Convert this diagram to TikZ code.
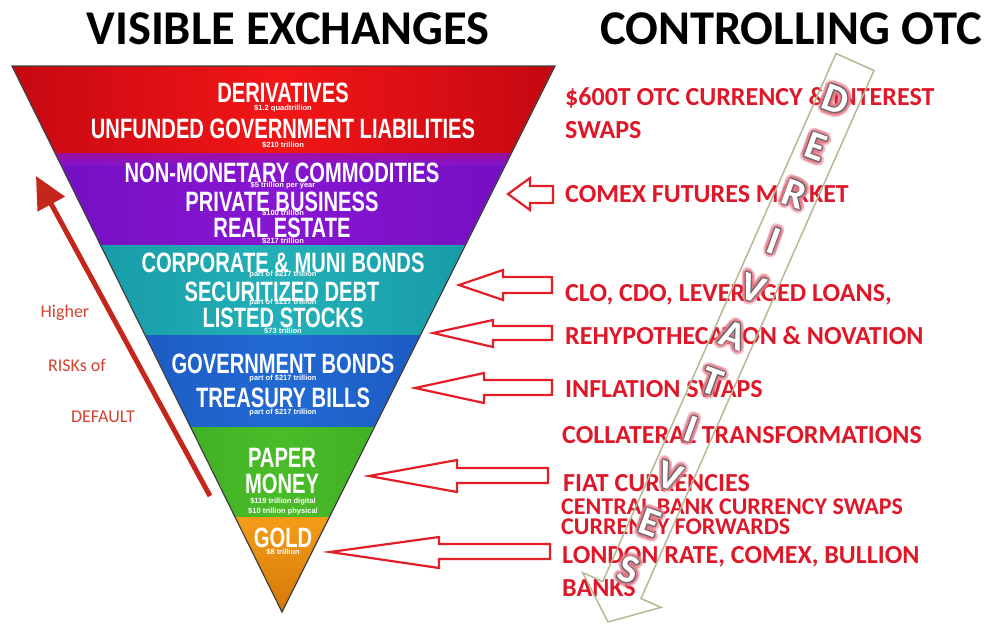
\documentclass[tikz,border=0pt]{standalone}
\usepackage{fontspec}
\setmainfont{Liberation Sans}
\newfontfamily\bandfont[FakeStretch=0.72]{Liberation Sans}
\newfontfamily\calib{Carlito}
\usetikzlibrary{arrows.meta}
\definecolor{txtred}{RGB}{222,24,40}
\definecolor{arrred}{RGB}{228,30,38}
\definecolor{riskred}{RGB}{196,38,28}
\definecolor{handred}{RGB}{214,66,48}
\definecolor{olivegray}{RGB}{184,184,150}
\definecolor{haloPink}{RGB}{228,120,135}
\definecolor{redA}{RGB}{196,8,18}\definecolor{redB}{RGB}{242,22,22}
\definecolor{purA}{RGB}{112,14,190}\definecolor{purB}{RGB}{136,22,210}
\definecolor{teaA}{RGB}{16,146,158}\definecolor{teaB}{RGB}{36,176,184}
\definecolor{bluA}{RGB}{22,78,182}\definecolor{bluB}{RGB}{34,106,210}
\definecolor{greA}{RGB}{46,156,30}\definecolor{greB}{RGB}{74,188,40}
\definecolor{oraA}{RGB}{244,156,24}\definecolor{oraB}{RGB}{214,120,8}
\tikzset{
  band/.style={font=\bandfont\bfseries\fontsize{28}{28}\selectfont, text=white, inner sep=0pt, text height=20pt, text depth=0pt},
  small/.style={font=\bfseries\fontsize{7.5}{7.5}\selectfont, text=white, inner sep=0pt},
  heading/.style={font=\calib\bfseries\fontsize{48.5}{48.5}\selectfont, text=black, inner sep=0pt, text height=31pt, text depth=0pt},
  otc/.style={font=\calib\bfseries\fontsize{26}{26}\selectfont, text=txtred, inner sep=0pt, anchor=west, text height=16.7pt, text depth=0pt},
  otcs/.style={font=\calib\bfseries\fontsize{24}{24}\selectfont, text=txtred, inner sep=0pt, anchor=west, text height=15.4pt, text depth=0pt},
  hand/.style={font=\calib\fontsize{18}{18}\selectfont, text=handred, inner sep=0pt},
  hollow/.style={draw=arrred, line width=2.2pt, fill=white, line join=miter},
  dl/.style={font=\calib\bfseries\fontsize{40}{40}\selectfont, inner sep=0pt, rotate=-20},
}
\newcommand\dlet[4]{%
  \foreach \a in {0,30,...,330}{\node[dl, text=haloPink, text opacity=0.35, xshift={4.5*cos(\a)}, yshift={4.5*sin(\a)}] at (#1,#2) {#3};}
  \foreach \a in {0,45,...,315}{\node[dl, text=haloPink, text opacity=0.6, xshift={2.6*cos(\a)}, yshift={2.6*sin(\a)}] at (#1,#2) {#3};}
  \foreach \a in {0,45,...,315}{\node[dl, text=black!60, xshift={1.0*cos(\a)}, yshift={1.0*sin(\a)}] at (#1,#2) {#3};}
  \node[dl, text=white] (#4) at (#1,#2) {#3};
}
\begin{document}
\begin{tikzpicture}[x=1pt,y=-1pt]
\useasboundingbox (0,0) rectangle (985,625);
\fill[white] (0,0) rectangle (985,625);

% headings
\node[heading] (h1) at (288,29) {VISIBLE EXCHANGES};
\node[heading] (h2) at (791,29) {CONTROLLING OTC};

% pyramid bands
\begin{scope}
\clip (12,66) -- (555,66) -- (282,612) -- cycle;
\shade[left color=redA, right color=redA, middle color=redB] (0,66) rectangle (560,153);
\shade[left color=purA, right color=purA, middle color=purB] (0,153) rectangle (560,245);
\shade[top color=purB!60!red, bottom color=purB, opacity=0.6] (0,153) rectangle (560,165);
\shade[left color=teaA, right color=teaA, middle color=teaB] (0,245) rectangle (560,335);
\shade[left color=bluA, right color=bluA, middle color=bluB] (0,335) rectangle (560,427);
\shade[left color=greA, right color=greA, middle color=greB] (0,427) rectangle (560,517);
\shade[top color=oraA, bottom color=oraB] (0,517) rectangle (560,612);
\end{scope}
\draw[black!75, line width=1.2pt, line join=miter] (12,66) -- (555,66) -- (282,612) -- cycle;

% band texts
\node[band] (t1) at (283,92) {DERIVATIVES};
\node[small] (s1) at (283,108) {\$1.2 quadtrillion};
\node[band] (t2) at (283,128) {UNFUNDED GOVERNMENT LIABILITIES};
\node[small] (s2) at (283,145) {\$210 trillion};
\node[band] (t3) at (282,172) {NON-MONETARY COMMODITIES};
\node[small] (s3) at (283,185) {\$5 trillion per year};
\node[band] (t4) at (282,201) {PRIVATE BUSINESS};
\node[small] (s4) at (283,213) {\$100 trillion};
\node[band] (t5) at (282,227) {REAL ESTATE};
\node[small] (s5) at (283,241) {\$217 trillion};
\node[band] (t6) at (283,262) {CORPORATE \& MUNI BONDS};
\node[small] (s6) at (283,274) {part of \$217 trillion};
\node[band] (t7) at (282,291) {SECURITIZED DEBT};
\node[small] (s7) at (283,302) {part of \$217 trillion};
\node[band] (t8) at (283,317) {LISTED STOCKS};
\node[small] (s8) at (283,331) {\$73 trillion};
\node[band] (t9) at (283,363) {GOVERNMENT BONDS};
\node[small] (s9) at (283,378) {part of \$217 trillion};
\node[band] (t10) at (283,397) {TREASURY BILLS};
\node[small] (s10) at (283,412) {part of \$217 trillion};
\node[band] (t11) at (282,457) {PAPER};
\node[band] (t12) at (282,483) {MONEY};
\node[small] (s11) at (283,501) {\$119 trillion digital};
\node[small] (s12) at (283,511) {\$10 trillion physical};
\node[band] (t13) at (283,537) {GOLD};
\node[small] (s13) at (283,552) {\$8 trillion};

% risk arrow
\coordinate (rlo) at (210,496);
\coordinate (rhi) at (36,176);
\draw[riskred, line width=5pt, -{Triangle[length=32pt,width=30pt]}] (rlo) -- (rhi);
\node[hand] (k1) at (65,313) {Higher};
\node[hand] (k2) at (77,365) {RISKs of};
\node[hand] (k3) at (103,417) {DEFAULT};

% right texts
\node[otc] (r1) at (565,97) {\$600T OTC CURRENCY \& INTEREST};
\node[otc] (r2) at (565,130) {SWAPS};
\node[otc] (r3) at (565,194) {COMEX FUTURES MARKET};
\node[otc] (r4) at (565,293) {CLO, CDO, LEVERAGED LOANS,};
\node[otc] (r5) at (565,336) {REHYPOTHECATION \& NOVATION};
\node[otc] (r6) at (565,389) {INFLATION SWAPS};
\node[otc] (r7) at (562,435) {COLLATERAL TRANSFORMATIONS};
\node[otc] (r8) at (563,483) {FIAT CURRENCIES};
\node[otcs] (r9) at (561,507) {CENTRAL BANK CURRENCY SWAPS};
\node[otcs] (r10) at (561,527) {CURRENCY FORWARDS};
\node[otc] (r11) at (562,555) {LONDON RATE, COMEX, BULLION};
\node[otc] (r12) at (562,588) {BANKS};

% hollow arrows
\draw[hollow] (508,194) -- (530,178) -- (530,186) -- (553,186) -- (553,203) -- (530,203) -- (530,210) -- cycle;
\draw[hollow] (459,285) -- (503,270) -- (503,277) -- (552,277) -- (552,293) -- (503,293) -- (503,300) -- cycle;
\draw[hollow] (433,333) -- (493,320) -- (493,326) -- (552,326) -- (552,340) -- (493,340) -- (493,347) -- cycle;
\draw[hollow] (415,388) -- (484,373) -- (484,380) -- (552,380) -- (552,395) -- (484,395) -- (484,403) -- cycle;
\draw[hollow] (369,476) -- (457,460) -- (457,468) -- (548,468) -- (548,483) -- (457,483) -- (457,492) -- cycle;
\draw[hollow] (330,552) -- (439,537) -- (439,544) -- (550,544) -- (550,559) -- (439,559) -- (439,568) -- cycle;

% big DERIVATIVES arrow outline
\draw[olivegray, line width=1.5pt, line join=miter]
  (836,53.5) -- (874,70.5) -- (641,598.5) -- (661,607.4) -- (608,622) -- (582.7,572.6) -- (602.8,581.5) -- cycle;

% letters
\dlet{836}{100}{D}{d1}
\dlet{816}{147}{E}{d2}
\dlet{795}{194}{R}{d3}
\dlet{774}{241}{I}{d4}
\dlet{753}{288}{V}{d5}
\dlet{733}{335}{A}{d6}
\dlet{712}{382}{T}{d7}
\dlet{691}{429}{I}{d8}
\dlet{670}{476}{V}{d9}
\dlet{650}{523}{E}{d10}
\dlet{629}{570}{S}{d11}
\end{tikzpicture}
\end{document}
